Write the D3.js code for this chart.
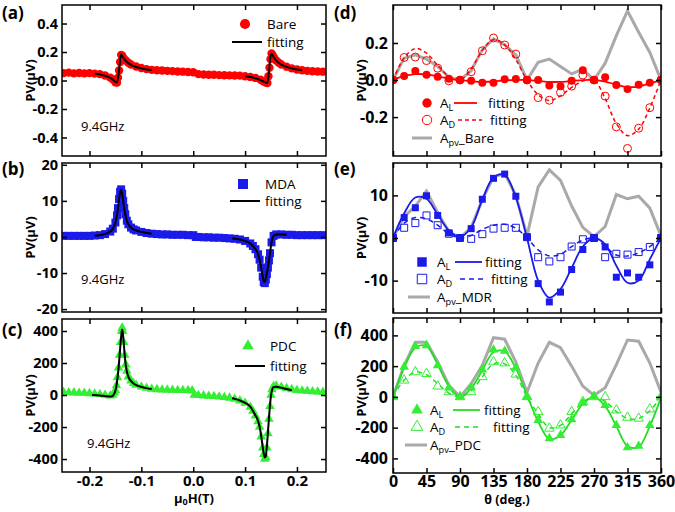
<!DOCTYPE html>
<html><head><meta charset="utf-8">
<script src="https://cdn.jsdelivr.net/npm/d3@7"></script>
<style>
body{margin:0;background:#fff;}
svg{display:block;}
</style></head><body>
<svg id="c" width="675" height="512"></svg>
<script>
// ---------- Left panels: field sweeps ----------
const fieldBare = [-0.25,-0.24,-0.23,-0.22,-0.21,-0.20,-0.19,-0.18,-0.17,-0.16,-0.155,-0.15,-0.147,-0.145,-0.143,-0.141,-0.139,-0.137,-0.134,-0.13,-0.125,-0.12,-0.11,-0.10,-0.09,-0.08,-0.07,-0.06,-0.05,-0.04,-0.03,-0.02,-0.01,0.0,0.01,0.02,0.03,0.04,0.05,0.06,0.07,0.08,0.09,0.10,0.11,0.12,0.13,0.135,0.14,0.143,0.145,0.147,0.149,0.151,0.153,0.156,0.16,0.165,0.17,0.18,0.19,0.20,0.21,0.22,0.23,0.24,0.25];
const pvBare = [0.052,0.055,0.05,0.053,0.05,0.052,0.048,0.045,0.035,0.02,0.008,-0.012,-0.015,0.02,0.07,0.13,0.18,0.175,0.155,0.14,0.125,0.112,0.098,0.088,0.08,0.075,0.072,0.07,0.068,0.066,0.063,0.062,0.06,0.058,0.045,0.042,0.04,0.04,0.038,0.037,0.036,0.035,0.034,0.03,0.025,0.018,0.005,-0.005,-0.015,-0.018,0.03,0.09,0.15,0.19,0.18,0.16,0.14,0.125,0.112,0.097,0.085,0.077,0.072,0.068,0.065,0.063,0.062];
const fitFieldBare = [-0.19,-0.18,-0.17,-0.16,-0.155,-0.15,-0.147,-0.144,-0.141,-0.139,-0.137,-0.134,-0.13,-0.12,-0.11,-0.10,-0.09,-0.08,null,0.10,0.11,0.12,0.13,0.135,0.14,0.143,0.146,0.149,0.151,0.154,0.16,0.17,0.18,0.19,0.20,0.21];
const fitBare = [0.047,0.042,0.033,0.018,0.006,-0.01,-0.014,0.04,0.14,0.185,0.172,0.155,0.138,0.11,0.095,0.085,0.077,0.073,null,0.03,0.024,0.015,0.003,-0.006,-0.014,-0.016,0.06,0.17,0.19,0.17,0.14,0.112,0.096,0.085,0.077,0.072];

const fieldMDA = [-0.25,-0.24,-0.23,-0.22,-0.21,-0.20,-0.19,-0.18,-0.17,-0.16,-0.155,-0.15,-0.147,-0.145,-0.143,-0.141,-0.139,-0.137,-0.135,-0.133,-0.131,-0.128,-0.125,-0.12,-0.115,-0.11,-0.10,-0.09,-0.08,-0.07,-0.06,-0.05,-0.04,-0.03,-0.02,-0.01,0.0,0.005,0.01,0.02,0.03,0.04,0.05,0.06,0.07,0.08,0.09,0.10,0.11,0.115,0.12,0.125,0.128,0.131,0.134,0.136,0.138,0.140,0.142,0.144,0.146,0.148,0.151,0.155,0.16,0.17,0.18,0.19,0.20,0.21,0.22,0.23,0.24,0.25];
const pvMDA = [0.3,0.3,0.3,0.3,0.3,0.3,0.4,0.5,0.8,1.5,2.3,4.0,6.0,8.0,10.5,12.5,13.2,12.0,10.0,8.0,6.3,4.5,3.5,2.6,2.1,1.8,1.4,1.1,0.9,0.8,0.7,0.7,0.6,0.6,0.6,0.5,0.5,0.0,0.0,-0.1,-0.1,-0.2,-0.2,-0.3,-0.4,-0.5,-0.7,-1.1,-1.8,-2.5,-3.4,-4.8,-6.3,-8.5,-11.0,-12.5,-12.8,-11.8,-10.3,-8.5,-6.5,-4.5,-1.5,0.3,0.7,0.7,0.6,0.6,0.5,0.5,0.5,0.5,0.5,0.5];
const fitFieldMDA = [-0.19,-0.18,-0.17,-0.16,-0.155,-0.15,-0.147,-0.145,-0.143,-0.141,-0.139,-0.137,-0.135,-0.133,-0.131,-0.128,-0.125,-0.12,-0.11,-0.10,-0.09,-0.08,null,0.075,0.08,0.09,0.10,0.11,0.115,0.12,0.125,0.128,0.131,0.134,0.136,0.138,0.140,0.142,0.144,0.146,0.148,0.151,0.155,0.16,0.17,0.18];
const fitMDA = [0.4,0.5,0.8,1.5,2.3,4.0,6.0,8.0,10.5,12.3,13.0,12.0,10.0,8.0,6.3,4.5,3.5,2.6,1.8,1.4,1.1,0.9,null,-0.4,-0.5,-0.7,-1.1,-1.8,-2.5,-3.4,-4.8,-6.3,-8.5,-11.0,-12.3,-12.5,-11.5,-10,-8.5,-6.5,-4.5,-1.5,0.3,0.7,0.7,0.6];

const fieldPDC = [-0.25,-0.24,-0.23,-0.22,-0.21,-0.20,-0.19,-0.18,-0.17,-0.16,-0.155,-0.152,-0.15,-0.148,-0.146,-0.144,-0.142,-0.140,-0.138,-0.137,-0.136,-0.134,-0.132,-0.130,-0.128,-0.125,-0.12,-0.115,-0.11,-0.10,-0.09,-0.08,-0.07,-0.06,-0.05,-0.04,-0.03,-0.02,-0.01,-0.002,0.002,0.01,0.02,0.03,0.04,0.05,0.06,0.07,0.08,0.09,0.10,0.11,0.115,0.12,0.125,0.128,0.131,0.134,0.136,0.138,0.140,0.142,0.144,0.146,0.148,0.150,0.152,0.155,0.16,0.17,0.18,0.19,0.20,0.21,0.22,0.23,0.24,0.25];
const pvPDC = [18,16,15,13,12,10,8,5,0,-5,0,15,30,60,110,170,250,330,400,420,400,330,250,190,150,115,90,73,63,52,44,38,35,33,32,31,30,30,29,28,0,-2,-4,-6,-8,-11,-14,-18,-25,-35,-50,-75,-100,-130,-165,-200,-260,-330,-370,-400,-390,-330,-240,-150,-70,0,35,55,58,50,42,35,30,27,25,22,20,18];
const fitFieldPDC = [-0.195,-0.18,-0.17,-0.16,-0.155,-0.152,-0.15,-0.148,-0.146,-0.144,-0.142,-0.140,-0.138,-0.137,-0.136,-0.134,-0.132,-0.130,-0.128,-0.125,-0.12,-0.115,-0.11,-0.10,-0.09,-0.08,null,0.075,0.08,0.09,0.10,0.11,0.115,0.12,0.125,0.128,0.131,0.134,0.136,0.138,0.140,0.142,0.144,0.146,0.148,0.150,0.152,0.155,0.16,0.17,0.18,0.19];
const fitPDC = [0,-3,-7,-10,-5,10,28,58,105,165,245,325,395,410,395,325,245,185,148,113,88,72,62,51,43,37,null,-20,-24,-34,-49,-73,-98,-128,-162,-198,-255,-325,-365,-390,-380,-320,-235,-145,-65,0,32,50,52,45,38,30];

const fieldTicks = [-0.2,-0.1,0.0,0.1,0.2];
const yTicksA = [-0.4,-0.2,0.0,0.2,0.4];
const yTicksB = [-20,-10,0,10,20];
const yTicksC = [-400,-200,0,200,400];

// ---------- Right panels: angle dependence ----------
const theta = [0,15,30,45,60,75,90,105,120,135,150,165,180,195,210,225,240,255,270,285,300,315,330,345,360];
const dAL = [0,0.022,0.049,0.029,0.018,0.007,0,-0.004,-0.015,-0.015,0.004,0.005,0,0,-0.029,-0.033,-0.004,0.053,0,0.015,-0.027,-0.049,-0.025,-0.015,0];
const dAD = [0,0.122,0.124,0.105,0.064,-0.004,0,0.045,0.158,0.227,0.189,0.14,0,-0.095,-0.109,-0.067,-0.033,0.027,0,-0.087,-0.253,-0.369,-0.26,-0.149,0];
const dALfit = [0,0.022,0.032,0.03,0.02,0.008,0,-0.006,-0.01,-0.008,-0.002,0,0,-0.004,-0.01,-0.01,-0.005,0,0,-0.008,-0.025,-0.038,-0.035,-0.018,0];
const dADfit = [0,0.12,0.17,0.145,0.08,0.02,0,0.06,0.16,0.218,0.19,0.11,0,-0.08,-0.11,-0.085,-0.04,-0.005,0,-0.1,-0.235,-0.3,-0.265,-0.15,0];
const dPv = [0,0.118,0.136,0.113,0.073,0.015,0,0.05,0.164,0.222,0.19,0.136,0,0.096,0.113,0.073,0.033,0.058,0,0.091,0.24,0.373,0.258,0.149,0];

const eAL = [0,4.8,7.1,9.9,5.3,1.2,0,2.2,9.1,14,15,9.8,0.2,-10.7,-15,-12.7,-7.4,-2.7,0,-2.1,-9.2,-8.2,-9.2,-6.3,0];
const eAD = [0,2.4,3.5,5.3,3,1.0,0,-0.2,0.9,2.2,2.4,2.4,0.2,-4.5,-5.5,-4.5,-2.0,-0.3,0,-4.5,-3.7,-3.9,-3.3,-2.1,0];
const eALfit = [0,5.8,9.5,9.2,5.5,1.8,0.2,2.5,9,14.2,14.8,9.5,0,-10,-14,-12,-7,-2,0,-1.5,-6.5,-10.5,-10,-5,0];
const eADfit = [0,3.5,4.8,4.5,3,1,0,0.6,2,3,3.2,2.3,0,-2.8,-4.2,-3.8,-2,-0.5,0,-2,-4,-4.2,-3.5,-2,0];
const ePv = [0,5,7.5,11,6,1.5,0,2.5,9,14.3,15.2,10,0.5,12,16,13.5,7.5,2.5,0.3,2.7,10.2,9.2,9.8,7,0.5];

const fAL = [0,195,329,335,205,60,0,60,177,307,298,190,0,-151,-270,-249,-147,-39,4,-54,-184,-329,-320,-184,-6];
const fAD = [0,108,162,151,69,32,0,32,130,227,220,147,0,-97,-205,-184,-97,-32,0,0,-86,-134,-140,-80,0];
const fALfit = [0,190,320,330,210,70,0,55,175,290,295,185,10,-160,-275,-250,-150,-45,0,-60,-190,-320,-325,-190,-5];
const fADfit = [0,110,160,145,85,25,0,40,130,215,215,140,0,-110,-200,-185,-110,-35,0,-30,-95,-140,-140,-90,0];
const fPv = [0,205,355,355,227,76,0,86,205,385,375,227,30,220,355,320,200,70,10,60,210,370,362,220,30];

const thetaTicks = [0,45,90,135,180,225,270,315,360];
const yTicksD = [-0.2,0.0,0.2];
const yTicksE = [-10,0,10];
const yTicksF = [-400,-200,0,200,400];

// ---------- drawing ----------
const svg = d3.select("#c");
const FONT = "'Open Sans', sans-serif";
const RED = "#ff0000", BLUE = "#1a1aeb", GREEN = "#33ee33", GREENL = "#22dd22", GRAY = "#a9a9a9";
const fmt1 = d => d3.format(".1f")(d).replace("\u2212","-");
const fmt0 = d => d3.format("d")(d).replace("\u2212","-");

let clipId = 0;
function panelArea(x, y) {
  const id = "clip" + (clipId++);
  svg.append("clipPath").attr("id", id).append("rect")
    .attr("x", x.range()[0]).attr("y", y.range()[1])
    .attr("width", x.range()[1] - x.range()[0]).attr("height", y.range()[0] - y.range()[1]);
  return svg.append("g").attr("clip-path", `url(#${id})`);
}

function axes(x, y, xTicks, yTicks, fx, fy, fsY, fsX, padY, padX) {
  const g = svg.append("g");
  const [xa, xb] = x.range(), [yb, ya] = y.range();
  g.append("g").attr("class","xb").attr("transform",`translate(0,${yb})`)
    .call(d3.axisBottom(x).tickValues(xTicks).tickSizeInner(-5).tickSizeOuter(0).tickPadding(padX || 3).tickFormat(fx || (() => "")));
  g.append("g").attr("transform",`translate(0,${ya})`)
    .call(d3.axisTop(x).tickValues(xTicks).tickSizeInner(-5).tickSizeOuter(0).tickFormat(() => ""));
  g.append("g").attr("class","yl").attr("transform",`translate(${xa},0)`)
    .call(d3.axisLeft(y).tickValues(yTicks).tickSizeInner(-5).tickSizeOuter(0).tickPadding(padY).tickFormat(fy));
  g.append("g").attr("transform",`translate(${xb},0)`)
    .call(d3.axisRight(y).tickValues(yTicks).tickSizeInner(-5).tickSizeOuter(0).tickFormat(() => ""));
  g.selectAll(".domain").remove();
  g.selectAll(".tick line").attr("stroke","#000").attr("stroke-width",1.5);
  g.selectAll(".yl .tick text").attr("font-size", fsY);
  g.selectAll(".xb .tick text").attr("font-size", fsX);
  g.selectAll(".tick text").attr("font-family", FONT).attr("font-weight", 700).attr("fill","#000");
  g.append("rect").attr("x",xa).attr("y",ya).attr("width",xb-xa).attr("height",yb-ya)
    .attr("fill","none").attr("stroke","#000").attr("stroke-width",1.5);
}

function txt(x, y, s, fs, opts = {}) {
  const t = svg.append("text").attr("x", x).attr("y", y).attr("font-family", FONT)
    .attr("font-size", fs).attr("fill", "#000").text(s);
  if (opts.bold) t.attr("font-weight", 700);
  if (opts.anchor) t.attr("text-anchor", opts.anchor);
  return t;
}
function subTxt(x, y, main, sub, rest, fs) {
  const t = svg.append("text").attr("x", x).attr("y", y).attr("font-family", FONT).attr("font-size", fs).attr("fill","#000");
  t.append("tspan").text(main);
  t.append("tspan").attr("font-size", fs * 0.68).attr("dy", 3).text(sub);
  if (rest) t.append("tspan").attr("dy", -3).text(rest);
  return t;
}
function sym(type, size) { return d3.symbol().type(type).size(size)(); }

// ---- left panels
const xL = d3.scaleLinear().domain([-0.253, 0.256]).range([62, 326]);
const leftPanels = [
  {f: fieldBare, v: pvBare, ff: fitFieldBare, fv: fitBare, dom: [-0.53, 0.53], y0: 5, y1: 156,
   ticks: yTicksA, fmt: fmt1, color: RED, shape: d3.symbolCircle, size: 55, lsize: 80,
   name: "Bare", lab: "(a)", labY: 19, legX: 245, legY: 24, lineY: 42, ghzY: 131, ghzX: 81},
  {f: fieldMDA, v: pvMDA, ff: fitFieldMDA, fv: fitMDA, dom: [-20.8, 20.5], y0: 163, y1: 312,
   ticks: yTicksB, fmt: fmt0, color: BLUE, shape: d3.symbolSquare, size: 64, lsize: 100,
   name: "MDA", lab: "(b)", labY: 175, legX: 243, legY: 184, lineY: 201, ghzY: 284, ghzX: 81},
  {f: fieldPDC, v: pvPDC, ff: fitFieldPDC, fv: fitPDC, dom: [-481, 475], y0: 319, y1: 472,
   ticks: yTicksC, fmt: fmt0, color: GREEN, shape: d3.symbolTriangle, size: 40, lsize: 58,
   name: "PDC", lab: "(c)", labY: 336, legX: 248, legY: 346, lineY: 366, ghzY: 448, ghzX: 87}
];
leftPanels.forEach((p, i) => {
  const y = d3.scaleLinear().domain(p.dom).range([p.y1, p.y0]);
  const g = panelArea(xL, y);
  const pts = p.f.map((f, k) => [f, p.v[k]]);
  g.selectAll("path.m").data(pts).join("path").attr("class","m")
    .attr("transform", d => `translate(${xL(d[0])},${y(d[1])})`)
    .attr("d", sym(p.shape, p.size)).attr("fill", p.color);
  const fpts = p.ff.map((f, k) => [f, p.fv[k]]);
  g.append("path").datum(fpts)
    .attr("d", d3.line().defined(d => d[0] !== null && d[1] !== null).x(d => xL(d[0])).y(d => y(d[1])).curve(d3.curveMonotoneX))
    .attr("fill","none").attr("stroke","#000").attr("stroke-width", 2);
  axes(xL, y, fieldTicks, p.ticks, i === 2 ? fmt1 : null, p.fmt, 14.5, 15, 4, 3);
  // legend
  svg.append("path").attr("transform", `translate(${p.legX},${p.legY})`).attr("d", sym(p.shape, p.lsize)).attr("fill", p.color);
  txt(p.legX + 22, p.legY + 5, p.name, 13.5);
  svg.append("line").attr("x1", p.legX - 13).attr("x2", p.legX + 17).attr("y1", p.lineY).attr("y2", p.lineY)
    .attr("stroke","#000").attr("stroke-width", 2);
  txt(p.legX + 22, p.lineY + 4.5, "fitting", 13.5);
  txt(p.ghzX, p.ghzY, "9.4GHz", 13);
  txt(2, p.labY, p.lab, 17, {bold: true});
  txt(30, (p.y0 + p.y1) / 2, "PV(\u03BCV)", 13, {bold: true, anchor: "middle"})
    .attr("transform", `rotate(-90,30,${(p.y0 + p.y1) / 2})`).attr("dy", "0.35em");
});
// x label left
{
  const t = svg.append("text").attr("x", 194).attr("y", 503).attr("text-anchor","middle")
    .attr("font-family", FONT).attr("font-size", 13).attr("font-weight", 700);
  t.append("tspan").text("\u03BC");
  t.append("tspan").attr("font-size", 9).attr("dy", 2).text("0");
  t.append("tspan").attr("dy", -2).text("H(T)");
}

// ---- right panels
const xR = d3.scaleLinear().domain([0, 360]).range([393, 661]);
const rightPanels = [
  {AL: dAL, AD: dAD, ALf: dALfit, ADf: dADfit, Pv: dPv, dom: [-0.41, 0.405], y0: 5, y1: 156,
   ticks: yTicksD, fmt: fmt1, color: RED, lcolor: RED, shape: d3.symbolCircle, size: 50, lsize: 70,
   pvName: "_Bare", lab: "(d)", labY: 19, legX: 427, legY: 103, txtX: 440, l1: [454, 477], l2: [458, 482], f1: 488, f2: 490, gl: [412, 432], dash: "4,3"},
  {AL: eAL, AD: eAD, ALf: eALfit, ADf: eADfit, Pv: ePv, dom: [-17.6, 17.6], y0: 163, y1: 313,
   ticks: yTicksE, fmt: fmt0, color: BLUE, lcolor: BLUE, shape: d3.symbolSquare, size: 49, lsize: 90,
   pvName: "_MDR", lab: "(e)", labY: 175, legX: 422, legY: 262, txtX: 437, l1: [455, 482], l2: [460, 485], f1: 485, f2: 491, gl: [408, 430], dash: "5,4"},
  {AL: fAL, AD: fAD, ALf: fALfit, ADf: fADfit, Pv: fPv, dom: [-495, 513], y0: 318, y1: 473,
   ticks: yTicksF, fmt: fmt0, color: GREEN, lcolor: GREENL, shape: d3.symbolTriangle, size: 40, lsize: 60,
   pvName: "_PDC", lab: "(f)", labY: 336, legX: 417, legY: 410, txtX: 430, l1: [453, 480], l2: [455, 482], f1: 484, f2: 493, gl: [405, 427], dash: "5,4"}
];
rightPanels.forEach((p, i) => {
  const y = d3.scaleLinear().domain(p.dom).range([p.y1, p.y0]);
  const g = panelArea(xR, y);
  const lineLin = d3.line().x((d, k) => xR(theta[k])).y(d => y(d));
  const lineFit = d3.line().x((d, k) => xR(theta[k])).y(d => y(d)).curve(d3.curveCatmullRom.alpha(0.5));
  g.append("path").datum(p.Pv).attr("d", lineLin).attr("fill","none").attr("stroke", GRAY).attr("stroke-width", 3);
  g.append("path").datum(p.ADf).attr("d", lineFit).attr("fill","none").attr("stroke", p.lcolor).attr("stroke-width", 1.5).attr("stroke-dasharray", p.dash);
  g.append("path").datum(p.ALf).attr("d", lineFit).attr("fill","none").attr("stroke", p.lcolor).attr("stroke-width", 1.8);
  g.selectAll("path.ad").data(p.AD).join("path").attr("class","ad")
    .attr("transform", (d, k) => `translate(${xR(theta[k])},${y(d)})`)
    .attr("d", sym(p.shape, p.size)).attr("fill","#fff").attr("fill-opacity",0).attr("stroke", p.color).attr("stroke-width", 1);
  g.selectAll("path.al").data(p.AL).join("path").attr("class","al")
    .attr("transform", (d, k) => `translate(${xR(theta[k])},${y(d)})`)
    .attr("d", sym(p.shape, p.size)).attr("fill", p.color);
  axes(xR, y, thetaTicks, p.ticks, i === 2 ? fmt0 : null, p.fmt, 16, 16, 5, 3);
  // legend
  const r1 = p.legY, r2 = p.legY + 17, r3 = p.legY + 35;
  svg.append("path").attr("transform", `translate(${p.legX},${r1})`).attr("d", sym(p.shape, p.lsize)).attr("fill", p.color);
  svg.append("path").attr("transform", `translate(${p.legX},${r2})`).attr("d", sym(p.shape, p.lsize)).attr("fill","none").attr("stroke", p.color).attr("stroke-width", 1);
  subTxt(p.txtX, r1 + 4.5, "A", "L", null, 13.5);
  subTxt(p.txtX, r2 + 4.5, "A", "D", null, 13.5);
  svg.append("line").attr("x1", p.l1[0]).attr("x2", p.l1[1]).attr("y1", r1).attr("y2", r1).attr("stroke", p.lcolor).attr("stroke-width", 1.8);
  svg.append("line").attr("x1", p.l2[0]).attr("x2", p.l2[1]).attr("y1", r2).attr("y2", r2).attr("stroke", p.lcolor).attr("stroke-width", 1.5).attr("stroke-dasharray", p.dash);
  txt(p.f1, r1 + 4.5, "fitting", 13.5);
  txt(p.f2, r2 + 4.5, "fitting", 13.5);
  svg.append("line").attr("x1", p.gl[0]).attr("x2", p.gl[1]).attr("y1", r3).attr("y2", r3).attr("stroke", GRAY).attr("stroke-width", 3);
  subTxt(p.txtX, r3 + 4.5, "A", "pv", p.pvName, 13.5);
  txt(334, p.labY, p.lab, 17, {bold: true});
  const cy = (p.y0 + p.y1) / 2;
  txt(361, cy, "PV(\u03BCV)", 13, {bold: true, anchor: "middle"})
    .attr("transform", `rotate(-90,361,${cy})`).attr("dy", "0.35em");
});
txt(507, 504, "\u03B8 (deg.)", 12.5, {bold: true, anchor: "middle"});
</script>
</body></html>
